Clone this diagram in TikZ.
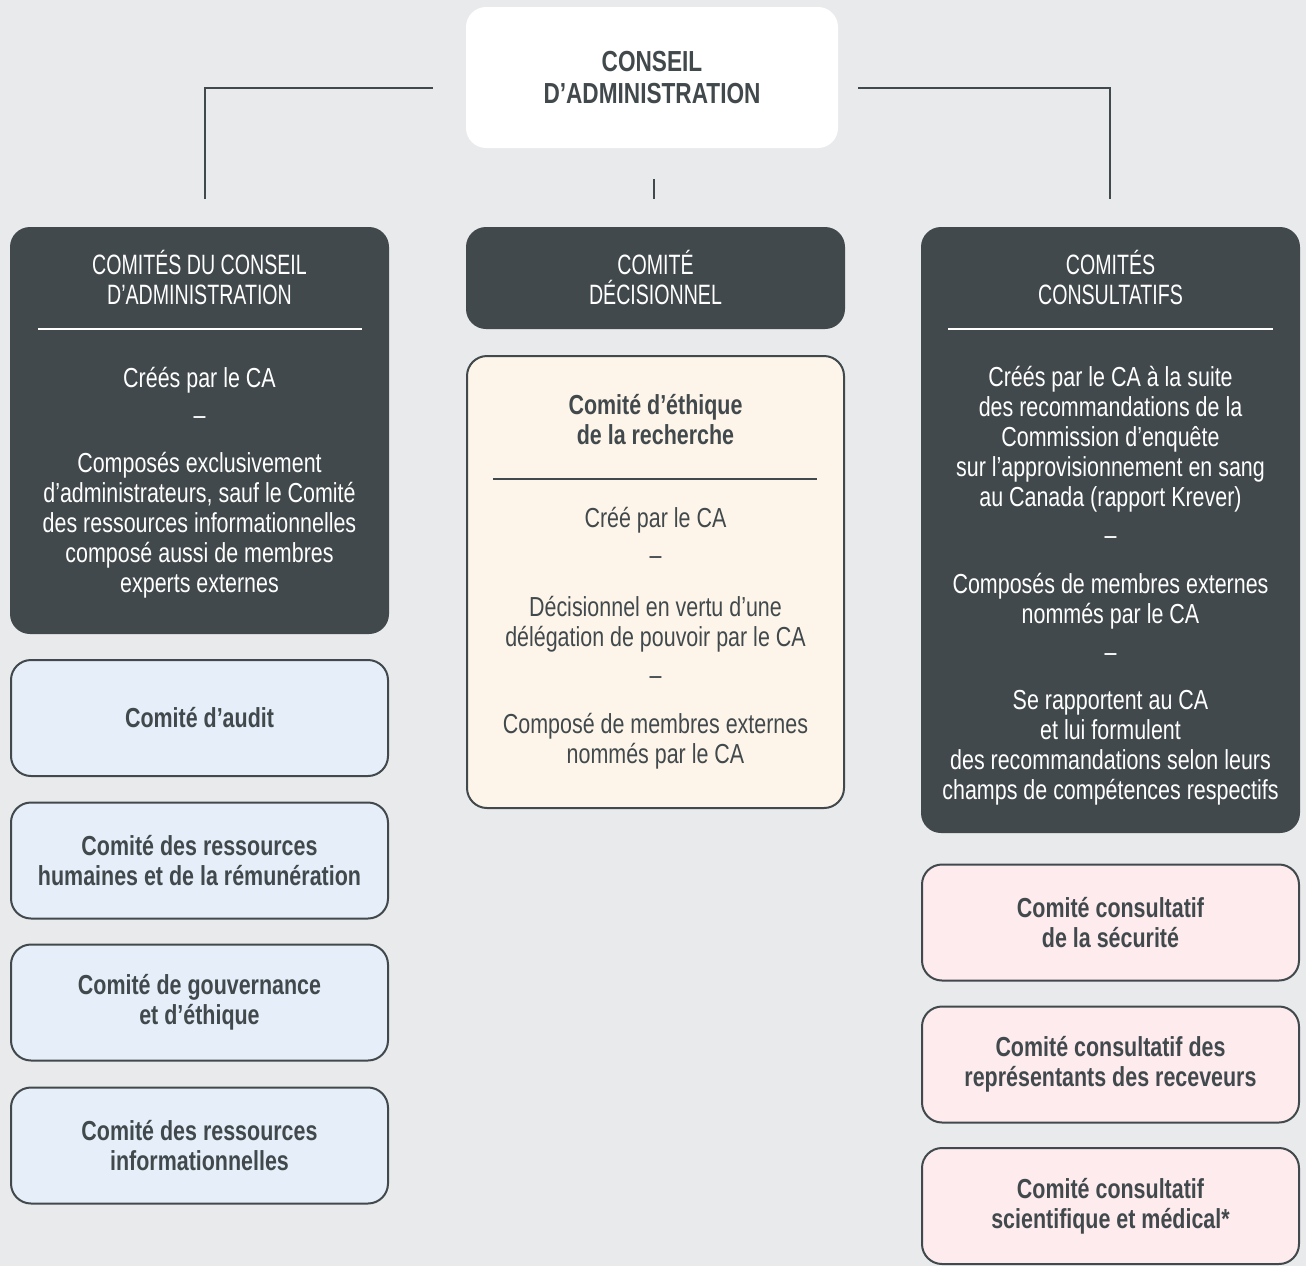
\documentclass[tikz,border=0pt]{standalone}
\usepackage{fontspec}
\setmainfont[FakeStretch=0.78]{Liberation Sans}
\newfontfamily\capsfamily[FakeStretch=0.70]{Liberation Sans}
\usepackage{tikz}
\usetikzlibrary{positioning, calc}
\definecolor{bggray}{HTML}{E9EAEB}
\definecolor{slate}{HTML}{41494C}
\definecolor{iceblue}{HTML}{E6EEF9}
\definecolor{cream}{HTML}{FEF5EA}
\definecolor{blush}{HTML}{FDEBEE}
\newcommand\txtfont{\fontsize{27.5}{30}\selectfont}
\newcommand\capsfont{\capsfamily\fontsize{28}{30}\selectfont}
\tikzset{
  link/.style={draw=slate, line width=2pt},
  rule/.style={draw=white, line width=2pt},
  topbox/.style={rounded corners=20pt, fill=white, minimum width=372pt,
                 minimum height=141pt, inner sep=0pt, align=center,
                 font=\fontsize{29}{32}\selectfont\bfseries, text=slate},
  headbox/.style={rounded corners=20pt, fill=slate, minimum width=379pt, inner sep=0pt},
  membox/.style={rounded corners=20pt, draw=slate, line width=2pt, minimum width=377pt,
                 minimum height=116pt, inner sep=0pt, align=center,
                 font=\txtfont\bfseries, text=slate},
  headtext/.style={font=\capsfont, text=white, align=center, inner sep=0pt},
  bodytext/.style={font=\txtfont, text=white, align=center, inner sep=0pt},
  sep/.style={font=\txtfont, inner sep=0pt},
}
\begin{document}
\begin{tikzpicture}[x=1pt, y=-1pt]
\useasboundingbox (0,0) rectangle (1306,1266);
\fill[bggray] (0,0) rectangle (1306,1266);

% ---- conseil (top) ----
\node[topbox] (ca) at (652,77.5) {CONSEIL\\D’ADMINISTRATION};

% ---- column heads ----
\node[headbox, minimum height=407pt] (cda) at (199.5,430.5) {};
\node[headbox, minimum height=102pt] (dec) at (655.5,278) {};
\node[headbox, minimum height=606pt] (cons) at (1110.5,530) {};

% ---- connectors (free ends stop short of the boxes) ----
\coordinate (lgap) at ($(ca.west)+(-33,10.5)$);
\coordinate (ldrop) at ($(cda.north)+(5.5,-28)$);
\coordinate (rgap) at ($(ca.east)+(20,10.5)$);
\coordinate (rdrop) at ($(cons.north)+(-0.5,-28)$);
\coordinate (ctop) at ($(ca.south)+(2,31)$);
\coordinate (cbot) at ($(dec.north)+(-1.5,-28)$);
\draw[link] (lgap) -| (ldrop);
\draw[link] (rgap) -| (rdrop);
\draw[link] (ctop) -- (cbot);

% ---- left: comites du conseil ----
\node[headtext] (cdahead) at (199.5,277) {COMITÉS DU CONSEIL\\D’ADMINISTRATION};
\draw[rule] (38,329) -- (362,329);
\node[bodytext] (cdaa) at (199.5,380) {Créés par le CA};
\node[sep, text=white] (cdad) at (199.5,421) {–};
\node[bodytext] (cdab) at (199.5,525) {Composés exclusivement\\d’administrateurs, sauf le Comité\\des ressources informationnelles\\composé aussi de membres\\experts externes};

\node[membox, fill=iceblue] (audit) at (199.5,718) {Comité d’audit};
\node[membox, fill=iceblue] (rh) at (199.5,860.5) {Comité des ressources\\humaines et de la rémunération};
\node[membox, fill=iceblue] (gouv) at (199.5,1002.5) {Comité de gouvernance\\et d’éthique};
\node[membox, fill=iceblue] (ri) at (199.5,1145.5) {Comité des ressources\\informationnelles};

% ---- centre: comite decisionnel ----
\node[headtext] (dechead) at (655.5,277) {COMITÉ\\DÉCISIONNEL};
\node[membox, fill=cream, minimum height=452pt] (cer) at (655.5,582) {};
\node[font=\txtfont\bfseries, text=slate, align=center, inner sep=0pt] (certitle) at (655.5,420) {Comité d’éthique\\de la recherche};
\draw[link] (493,479) -- (817,479);
\node[bodytext, text=slate] (cera) at (655.5,520) {Créé par le CA};
\node[sep, text=slate] (cerd1) at (655.5,561) {–};
\node[bodytext, text=slate] (cerb) at (655.5,624) {Décisionnel en vertu d’une\\délégation de pouvoir par le CA};
\node[sep, text=slate] (cerd2) at (655.5,681) {–};
\node[bodytext, text=slate] (cerc) at (655.5,741) {Composé de membres externes\\nommés par le CA};

% ---- right: comites consultatifs ----
\node[headtext] (conshead) at (1110.5,277) {COMITÉS\\CONSULTATIFS};
\draw[rule] (948,329) -- (1273,329);
\node[bodytext] (consa) at (1110.5,439.5) {Créés par le CA à la suite\\des recommandations de la\\Commission d’enquête\\sur l’approvisionnement en sang\\au Canada (rapport Krever)};
\node[sep, text=white] (consd1) at (1110.5,541) {–};
\node[bodytext] (consb) at (1110.5,601) {Composés de membres externes\\nommés par le CA};
\node[sep, text=white] (consd2) at (1110.5,658) {–};
\node[bodytext] (consc) at (1110.5,748) {Se rapportent au CA\\et lui formulent\\des recommandations selon leurs\\champs de compétences respectifs};

\node[membox, fill=blush] (secu) at (1110.5,922.5) {Comité consultatif\\de la sécurité};
\node[membox, fill=blush] (recv) at (1110.5,1064.5) {Comité consultatif des\\représentants des receveurs};
\node[membox, fill=blush] (scim) at (1110.5,1206) {Comité consultatif\\scientifique et médical*};

\end{tikzpicture}
\end{document}
